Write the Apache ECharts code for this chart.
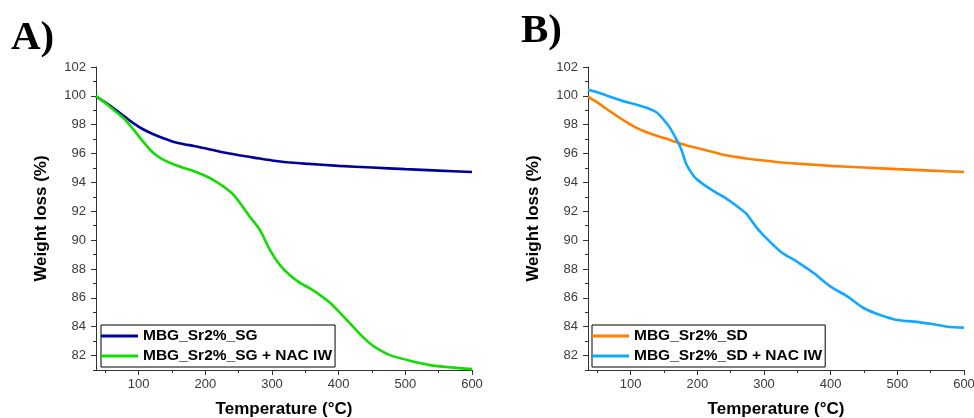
<!DOCTYPE html>
<html><head><meta charset="utf-8">
<script src="https://cdn.jsdelivr.net/npm/echarts@6/dist/echarts.min.js"></script>
<style>html,body{margin:0;padding:0;background:#fff}#c{width:974px;height:418px}</style>
</head><body><div id="c"></div>
<script>
// ---- data ----
const panelLabels = ['A)', 'B)'];
const namesA = ['MBG_Sr2%_SG', 'MBG_Sr2%_SG + NAC IW'];
const namesB = ['MBG_Sr2%_SD', 'MBG_Sr2%_SD + NAC IW'];

const tempA_SG = [36, 50, 63, 78, 93, 108, 123, 138, 153, 168, 183, 198, 213, 228, 243, 258, 273, 300, 318, 350, 400, 450, 500, 550, 600];
const weightA_SG = [99.95, 99.55, 99.12, 98.6, 98.08, 97.65, 97.32, 97.05, 96.81, 96.65, 96.53, 96.38, 96.23, 96.08, 95.95, 95.83, 95.72, 95.52, 95.42, 95.3, 95.15, 95.03, 94.92, 94.82, 94.72];

const tempA_NAC = [36, 50, 63, 78, 93, 108, 123, 138, 153, 168, 183, 198, 213, 228, 243, 258, 267, 282, 297, 312, 327, 342, 357, 372, 387, 402, 417, 432, 447, 462, 477, 507, 537, 567, 600];
const weightA_NAC = [100.0, 99.5, 99.0, 98.43, 97.62, 96.76, 96.0, 95.54, 95.24, 95.0, 94.78, 94.5, 94.15, 93.69, 93.11, 92.19, 91.61, 90.69, 89.31, 88.27, 87.57, 87.04, 86.65, 86.19, 85.66, 84.96, 84.23, 83.49, 82.84, 82.38, 82.03, 81.64, 81.34, 81.18, 81.06];

const tempB_SD = [36, 50, 63, 78, 93, 108, 123, 138, 153, 168, 183, 198, 213, 228, 243, 258, 273, 300, 318, 350, 400, 450, 500, 550, 600];
const weightB_SD = [99.92, 99.55, 99.12, 98.65, 98.19, 97.8, 97.5, 97.25, 97.04, 96.8, 96.58, 96.4, 96.23, 96.05, 95.88, 95.77, 95.66, 95.52, 95.42, 95.3, 95.15, 95.03, 94.92, 94.82, 94.72];

const tempB_NAC = [36, 50, 63, 78, 93, 108, 123, 138, 148, 158, 168, 175.5, 183, 190, 198, 213, 228, 243, 258, 273, 288, 300, 325, 350, 375, 400, 425, 450, 475, 500, 525, 550, 575, 600];
const weightB_NAC = [100.43, 100.25, 100.04, 99.8, 99.58, 99.4, 99.19, 98.88, 98.43, 97.85, 97.04, 96.35, 95.31, 94.75, 94.27, 93.74, 93.3, 92.89, 92.4, 91.85, 90.92, 90.3, 89.2, 88.5, 87.7, 86.78, 86.1, 85.28, 84.8, 84.47, 84.35, 84.2, 84.0, 83.94];

const xTickLabels = [100, 200, 300, 400, 500, 600];
const xMinorTicks = [50, 150, 250, 350, 450, 550];
const yTickLabels = [82, 84, 86, 88, 90, 92, 94, 96, 98, 100, 102];
const yMinorTicks = [81, 83, 85, 87, 89, 91, 93, 95, 97, 99, 101];

// ---- chart ----
const SANS = 'Arial, "Liberation Sans", sans-serif';
const SERIF = '"Times New Roman", "Liberation Serif", serif';
const AX = '#333';
const pairs = (xs, ys) => xs.map((x, i) => [x, ys[i]]);

function xAxes(g) {
  return [
    { type: 'value', gridIndex: g, min: 36, max: 600, position: 'bottom',
      axisLine: { onZero: false, lineStyle: { color: AX, width: 1 } },
      axisTick: { customValues: xTickLabels, length: 5, lineStyle: { color: AX } },
      axisLabel: { customValues: xTickLabels, margin: 8, color: '#3a3a3a', fontSize: 13, fontFamily: SANS },
      splitLine: { show: false },
      name: 'Temperature (°C)', nameLocation: 'middle', nameGap: 31,
      nameTextStyle: { fontFamily: SANS, fontSize: 17, fontWeight: 'bold', color: '#000' } },
    { type: 'value', gridIndex: g, min: 36, max: 600, position: 'bottom',
      axisLine: { show: false, onZero: false },
      axisTick: { customValues: xMinorTicks, length: 3, lineStyle: { color: AX } },
      axisLabel: { show: false }, splitLine: { show: false } }
  ];
}
function yAxes(g) {
  return [
    { type: 'value', gridIndex: g, min: 81, max: 102, position: 'left',
      axisLine: { show: true, onZero: false, lineStyle: { color: AX, width: 1 } },
      axisTick: { show: true, customValues: yTickLabels, length: 5, lineStyle: { color: AX } },
      axisLabel: { customValues: yTickLabels, margin: 10, color: '#3a3a3a', fontSize: 13, fontFamily: SANS },
      splitLine: { show: false },
      name: 'Weight loss (%)', nameLocation: 'middle', nameGap: 46,
      nameTextStyle: { fontFamily: SANS, fontSize: 17, fontWeight: 'bold', color: '#000' } },
    { type: 'value', gridIndex: g, min: 81, max: 102, position: 'left',
      axisLine: { show: false, onZero: false },
      axisTick: { show: true, customValues: yMinorTicks, length: 3, lineStyle: { color: AX } },
      axisLabel: { show: false }, splitLine: { show: false } }
  ];
}
function line(name, data, color, xi, yi) {
  return { type: 'line', name, data, xAxisIndex: xi, yAxisIndex: yi, showSymbol: false, symbol: 'none',
    smooth: 0.3, lineStyle: { color, width: 2.6 }, itemStyle: { color }, z: 3, animation: false };
}
function legend(left, names) {
  return { left, top: 325, orient: 'vertical', data: names, icon: 'rect', itemWidth: 37, itemHeight: 3,
    itemGap: 0, padding: [1, 3, 1, 0], borderColor: '#000', borderWidth: 1, backgroundColor: '#fff',
    textStyle: { fontFamily: SANS, fontSize: 15.5, fontWeight: 'bold', color: '#000', lineHeight: 20 } };
}

const option = {
  animation: false,
  backgroundColor: '#fff',
  title: [
    { text: panelLabels[0], left: 11, top: 18, padding: 0,
      textStyle: { fontFamily: SERIF, fontSize: 41, fontWeight: 'bold', color: '#000' } },
    { text: panelLabels[1], left: 521, top: 11, padding: 0,
      textStyle: { fontFamily: SERIF, fontSize: 41, fontWeight: 'bold', color: '#000' } }
  ],
  grid: [
    { left: 96, top: 67, width: 376, height: 303, containLabel: false, outerBoundsMode: 'none' },
    { left: 588, top: 67, width: 376, height: 303, containLabel: false, outerBoundsMode: 'none' }
  ],
  xAxis: [...xAxes(0), ...xAxes(1)],
  yAxis: [...yAxes(0), ...yAxes(1)],
  legend: [legend(101, namesA), legend(592, namesB)],
  series: [
    line(namesA[0], pairs(tempA_SG, weightA_SG), '#00009c', 0, 0),
    line(namesA[1], pairs(tempA_NAC, weightA_NAC), '#11dd00', 0, 0),
    line(namesB[0], pairs(tempB_SD, weightB_SD), '#ff7f00', 2, 2),
    line(namesB[1], pairs(tempB_NAC, weightB_NAC), '#12a8ff', 2, 2)
  ]
};
const chart = echarts.init(document.getElementById('c'), null, { renderer: 'canvas' });
chart.setOption(option);
</script>
</body></html>
